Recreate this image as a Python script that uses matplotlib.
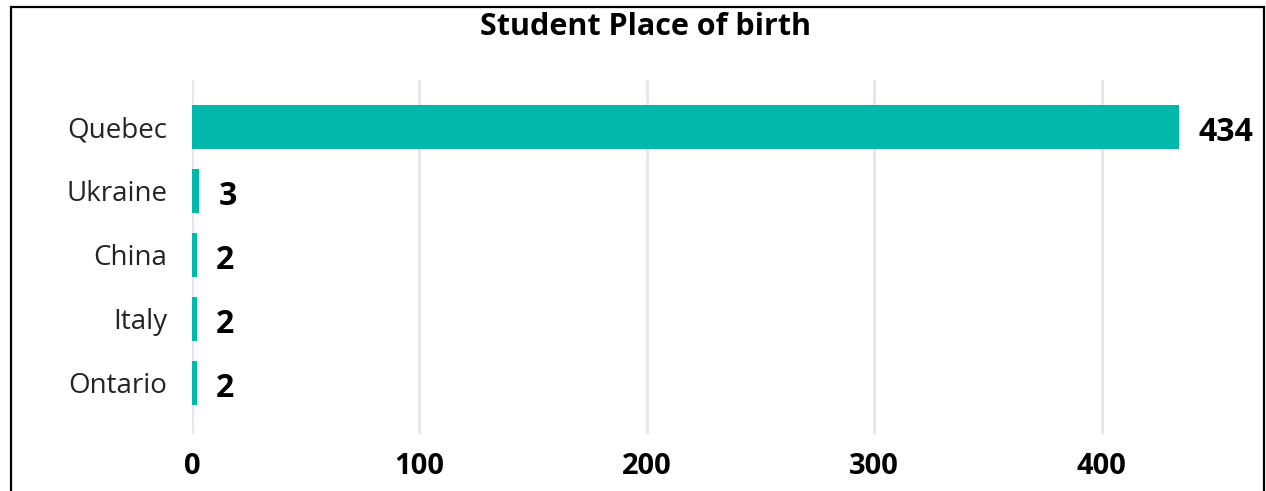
import matplotlib
matplotlib.use("Agg")
import matplotlib.pyplot as plt
from matplotlib.patches import Rectangle

categories = ["Quebec", "Ukraine", "China", "Italy", "Ontario"]
values = [434, 3, 2, 2, 2]
xticks = [0, 100, 200, 300, 400]
title = "Student Place of birth"

plt.rcParams['font.family'] = ['Open Sans', 'DejaVu Sans']

W, H = 1266, 491
fig = plt.figure(figsize=(W / 100, H / 100), dpi=100)
left = 192 / W
right = 1261 / W
top = 1 - 80 / H
bottom = 1 - 434 / H
ax = fig.add_axes([left, bottom, right - left, top - bottom])

ypos = list(range(len(categories)))
ax.barh(ypos, values, height=0.69, color="#01B8AA", zorder=3)
ax.set_ylim(4.8, -0.73)
ax.set_xlim(0, 470)
ax.set_xticks(xticks)
ax.set_xticklabels([str(t) for t in xticks], fontsize=21, fontweight='bold')
ax.set_yticks(ypos)
ax.set_yticklabels(categories, fontsize=20, color="#252423")
ax.tick_params(axis='x', length=0, pad=13)
ax.tick_params(axis='y', length=0, pad=18)
ax.grid(axis='x', color="#E6E6E6", linewidth=2, zorder=0)
for s in ax.spines.values():
    s.set_visible(False)

for y, v in zip(ypos, values):
    ax.annotate(str(v), (v, y), xytext=(14, -4), textcoords='offset points',
                ha='left', va='center', fontsize=23, fontweight='bold', color='black')

fig.text(645 / W, 1 - 27 / H, title, ha='center', va='center',
         fontsize=22, fontweight='bold', color='black')

fig.patches.append(Rectangle((11 / W, -0.1), (1264 - 11) / W, 1.1 - 7 / H,
                             transform=fig.transFigure, fill=False,
                             edgecolor='black', linewidth=1.6, clip_on=False))

fig.savefig("out.png", dpi=100)
